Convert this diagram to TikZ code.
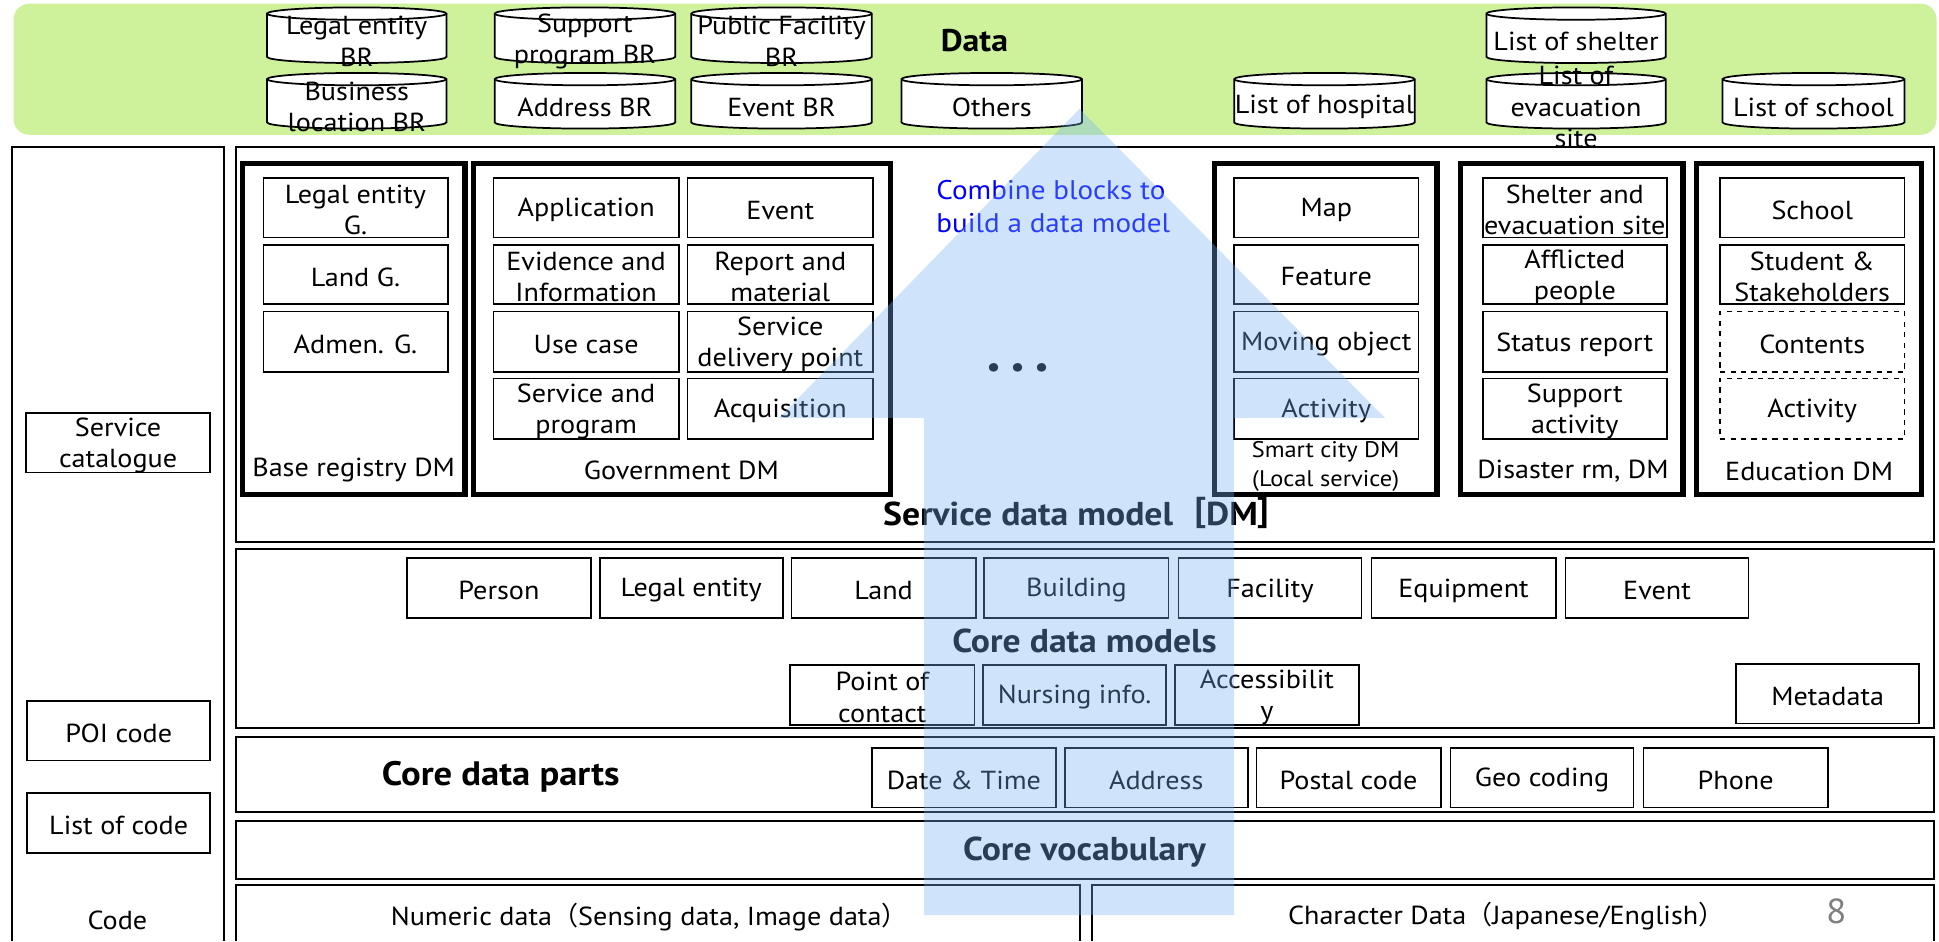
\documentclass[tikz,border=0pt]{standalone}
\usepackage{fontspec}
\setmainfont{PT Sans}[FakeStretch=1.08]
\newfontfamily\cjk{Noto Sans CJK JP}
\definecolor{bannergreen}{RGB}{205,242,155}
\definecolor{arrowblue}{RGB}{118,178,241}
\definecolor{pagegray}{RGB}{128,128,128}
\newcommand{\fs}{\fontsize{15}{18}\selectfont}
\newcommand{\fsb}{\fontsize{19}{22}\selectfont\bfseries}
\newcommand{\fss}{\fontsize{13}{16.5}\selectfont}
\tikzset{
  box/.style={draw, line width=1pt, inner sep=0pt},
  dm/.style={draw, line width=3pt, inner sep=0pt},
  layer/.style={draw, line width=1.2pt, inner sep=0pt},
  dashbox/.style={draw, dashed, line width=1pt, inner sep=0pt},
  lbl/.style={font=\fs, align=center, inner sep=0pt},
  blbl/.style={font=\fsb, align=center, inner sep=0pt},
  cylstyle/.style={draw, line width=1pt, fill=white},
  openline/.style={draw, line width=1.2pt},
}
% \bx[style]{name}{x1}{x2}{y1}{y2}{text}  (y measured downward)
\newcommand{\bx}[7][box]{\node[#1,minimum width={(#4-#3)*0.025cm},minimum height={(#6-#5)*0.025cm},label={[lbl,yshift=-0.05cm]center:{#7}}] (#2) at ({(#3+#4)/2},{761-(#5+#6)/2}) {};}
% \cyl{name}{x1}{x2}{y1}{y2}{text}
\newcommand{\cyl}[6]{%
  \draw[cylstyle] (#2,{756-#4}) -- (#2,{766-#5}) arc[start angle=180,end angle=360,x radius={(#3-#2)/2},y radius=5] -- (#3,{756-#4}) arc[start angle=0,end angle=180,x radius={(#3-#2)/2},y radius=5] -- cycle;
  \draw[cylstyle,fill=none] (#2,{756-#4}) arc[start angle=180,end angle=360,x radius={(#3-#2)/2},y radius=5];
  \node[lbl] (#1) at ({(#2+#3)/2},{761-(#4+#5)/2-5}) {#6};}
\begin{document}
\begin{tikzpicture}[x=0.025cm,y=0.025cm]
\useasboundingbox (0,0) rectangle (1568,761);
% ---------- data banner ----------
\fill[bannergreen, rounded corners=9] (11,{761-3}) rectangle (1566,{761-109});
\cyl{c1}{216}{361}{6}{51}{Legal entity\\BR}
\cyl{c2}{400}{546}{6}{51}{Support\\program BR}
\cyl{c3}{559}{705}{6}{51}{Public Facility\\BR}
\cyl{c4}{216}{361}{59}{104}{Business\\location BR}
\cyl{c5}{400}{546}{59}{104}{Address BR}
\cyl{c6}{559}{705}{59}{104}{Event BR}
\cyl{c7}{729}{875}{59}{104}{Others}
\cyl{c8}{998}{1144}{59}{104}{List of hospital}
\cyl{c9}{1202}{1347}{6}{51}{List of shelter}
\cyl{c10}{1202}{1347}{59}{104}{List of\\evacuation\\site}
\cyl{c11}{1393}{1540}{59}{104}{List of school}
\node[blbl, font=\fontsize{18}{21}\selectfont\bfseries] (data) at (788,{761-33}) {Data};
% ---------- left column ----------
\draw[openline] (10,0) -- (10,{761-119}) -- (181,{761-119}) -- (181,0);
\bx{svc}{21}{170}{334}{382}{Service\\catalogue}
\bx{poi}{22}{170}{567}{615}{POI code}
\bx{loc}{22}{170}{641}{690}{List of code}
\node[lbl] (code) at (95,{761-744}) {Code};
% ---------- layers ----------
\bx[layer]{sdm}{191}{1564}{119}{438}{}
\bx[layer]{cdm}{191}{1564}{444}{589}{}
\bx[layer]{cdp}{191}{1564}{596}{657}{}
\bx[layer]{cv}{191}{1564}{664}{711}{}
\draw[openline] (191,0) -- (191,{761-716}) -- (873,{761-716}) -- (873,0);
\draw[openline] (883,0) -- (883,{761-716}) -- (1564,{761-716}) -- (1564,0);
\node[lbl] (num) at (525,{761-742}) {Numeric data{\cjk（}Sensing data, Image data{\cjk）}};
\node[lbl] (chr) at (1218,{761-741}) {Character Data{\cjk（}Japanese/English{\cjk）}};
\node[font=\fontsize{20}{22}\selectfont, text=pagegray, inner sep=0pt] (pg) at (1485,{761-737}) {8};
\node[blbl] (sdmlbl) at (879,{761-415}) {Service data model{\cjk［}DM{\cjk］}};
\node[blbl] (cdmlbl) at (877,{761-518}) {Core data models};
\node[blbl, font=\fontsize{19.5}{22}\selectfont\bfseries] (cdplbl) at (405,{761-628}) {Core data parts};
\node[blbl] (cvlbl) at (877,{761-689}) {Core vocabulary};
% ---------- service data model blocks ----------
\bx[dm]{base}{196}{376}{132}{400}{}
\bx[dm]{gov}{383}{720}{132}{400}{}
\bx[dm]{smart}{982}{1162}{132}{400}{}
\bx[dm]{dis}{1181}{1361}{132}{400}{}
\bx[dm]{edu}{1372}{1554}{132}{400}{}
\bx{b1}{213}{362}{144}{192}{Legal entity\\G.}
\bx{b2}{213}{362}{198}{246}{Land G.}
\bx{b3}{213}{362}{252}{301}{Admen. G.}
\node[lbl] (baselbl) at (286,{761-380}) {Base registry DM};
\bx{g11}{399}{549}{144}{192}{Application}
\bx{g12}{556}{706}{144}{192}{Event}
\bx{g21}{399}{549}{198}{246}{Evidence and\\Information}
\bx{g22}{556}{706}{198}{246}{Report and\\material}
\bx{g31}{399}{549}{252}{301}{Use case}
\bx{g32}{556}{706}{252}{301}{Service\\delivery point}
\bx{g41}{399}{549}{306}{355}{Service and\\program}
\bx{g42}{556}{706}{306}{355}{Acquisition}
\node[lbl] (govlbl) at (551,{761-380}) {Government DM};
\bx{s1}{998}{1147}{144}{192}{Map}
\bx{s2}{998}{1147}{198}{246}{Feature}
\bx{s3}{998}{1147}{252}{301}{Moving object}
\bx{s4}{998}{1147}{306}{355}{Activity}
\node[lbl, font=\fss] (smartlbl) at (1072,{761-377}) {Smart city DM\\(Local service)};
\bx{d1}{1199}{1348}{144}{192}{Shelter and\\evacuation site}
\bx{d2}{1199}{1348}{198}{246}{Afflicted\\people}
\bx{d3}{1199}{1348}{252}{301}{Status report}
\bx{d4}{1199}{1348}{306}{355}{Support\\activity}
\node[lbl] (dislbl) at (1272,{761-381}) {Disaster rm, DM};
\bx{e1}{1391}{1540}{144}{192}{School}
\bx{e2}{1391}{1540}{198}{246}{Student \&\\Stakeholders}
\bx[dashbox]{e3}{1391}{1540}{252}{301}{Contents}
\bx[dashbox]{e4}{1391}{1540}{306}{355}{Activity}
\node[lbl] (edulbl) at (1463,{761-381}) {Education DM};
\node[lbl, font=\fontsize{15.5}{19}\selectfont, anchor=west, align=left, text=blue] (combine) at (757,{761-167}) {Combine blocks to\\build a data model};
\node[lbl, font=\fontsize{16}{18}\selectfont\bfseries] (dots) at (823,{761-299}) {\textbullet\hspace{6pt}\textbullet\hspace{6pt}\textbullet};
% ---------- core data models ----------
\bx{p1}{329}{478}{451}{500}{Person}
\bx{p2}{485}{633}{451}{500}{Legal entity}
\bx{p3}{640}{789}{451}{500}{Land}
\bx{p4}{796}{945}{451}{500}{Building}
\bx{p5}{953}{1101}{451}{500}{Facility}
\bx{p6}{1109}{1258}{451}{500}{Equipment}
\bx{p7}{1266}{1414}{451}{500}{Event}
\bx{q1}{639}{788}{538}{586}{Point of\\contact}
\bx{q2}{795}{943}{538}{586}{Nursing info.}
\bx{q3}{950}{1099}{538}{586}{Accessibilit\\y}
\bx{q4}{1404}{1552}{537}{585}{Metadata}
% ---------- core data parts ----------
\bx{r1}{705}{854}{605}{653}{Date \& Time}
\bx{r2}{861}{1009}{605}{653}{Address}
\bx{r3}{1016}{1165}{605}{653}{Postal code}
\bx{r4}{1173}{1321}{605}{653}{Geo coding}
\bx{r5}{1329}{1478}{605}{653}{Phone}
% ---------- big arrow overlay ----------
\fill[arrowblue, fill opacity=0.35] (873,{761-88}) -- (1120,{761-338}) -- (998,{761-338}) -- (998,{761-740}) -- (747,{761-740}) -- (747,{761-338}) -- (630,{761-338}) -- cycle;
\end{tikzpicture}
\end{document}
